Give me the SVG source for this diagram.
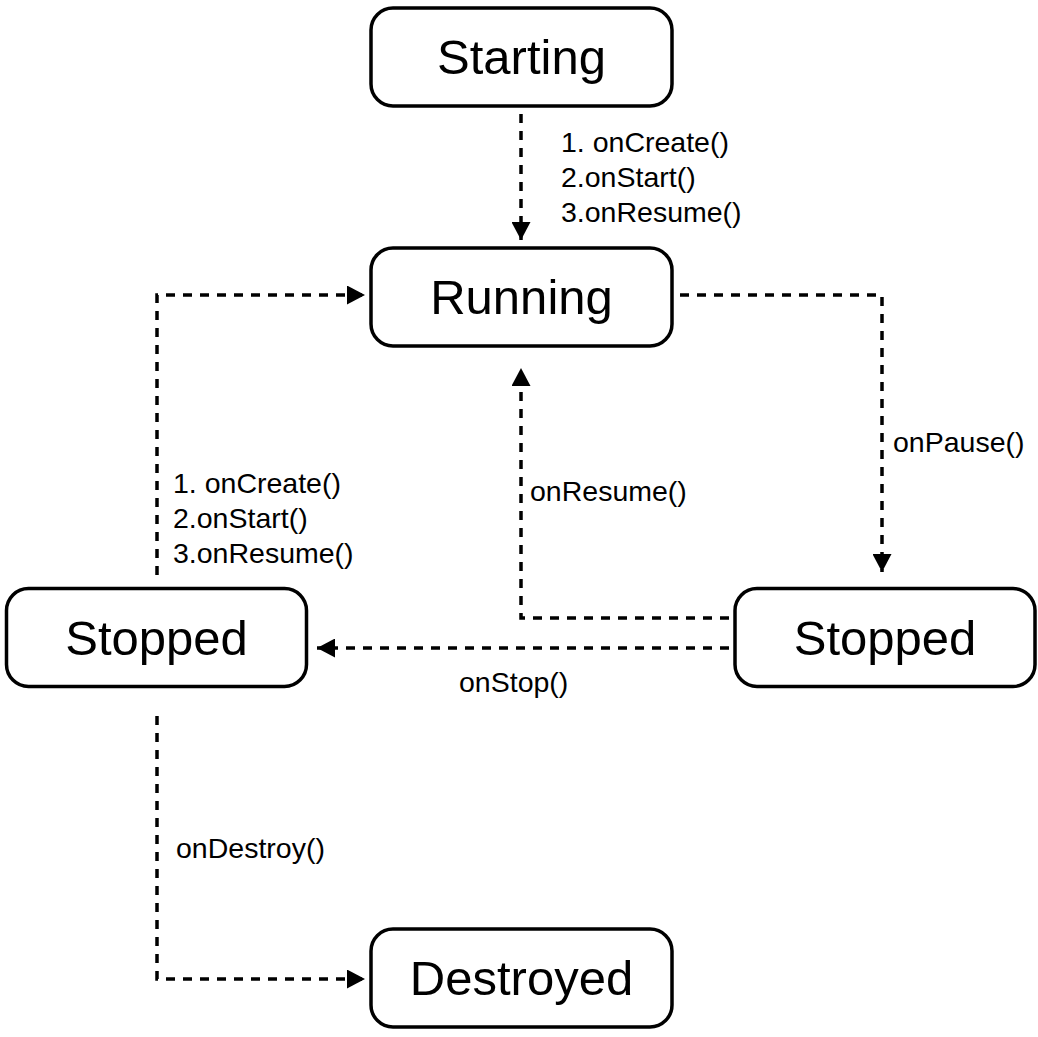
<svg xmlns="http://www.w3.org/2000/svg" width="1038" height="1037" viewBox="0 0 1038 1037">
<style>
.node rect{fill:#fff;stroke:#000;stroke-width:3.5}
.node text{font-family:"Liberation Sans",Arial,sans-serif;font-size:49px;text-anchor:middle;fill:#000}
.lbl{font-family:"Liberation Sans",Arial,sans-serif;font-size:28.5px;fill:#000}
.edge{fill:none;stroke:#000;stroke-width:3.5;stroke-dasharray:9 8;marker-end:url(#arr)}
</style>
<defs>
<marker id="arr" markerUnits="userSpaceOnUse" markerWidth="19" markerHeight="19" viewBox="0 0 19 19" refX="18" refY="9.5" orient="auto">
<path d="M0,0 L18,9.5 L0,19 Z" fill="#000"/>
</marker>
</defs>
<rect width="1038" height="1037" fill="#fff"/>
<g id="connectors">
<path class="edge" d="M521,114 L521,240"/>
<path class="edge" d="M157,575 L157,295 L365,295"/>
<path class="edge" d="M680,295 L882,295 L882,572"/>
<path class="edge" d="M729,618 L521,618 L521,368"/>
<path class="edge" d="M729,648 L317,648"/>
<path class="edge" d="M157,716 L157,979 L365,979"/>
</g>
<g id="labels">
<text class="lbl" x="561" y="152">1. onCreate()</text>
<text class="lbl" x="561" y="187">2.onStart()</text>
<text class="lbl" x="561" y="222">3.onResume()</text>
<text class="lbl" x="173" y="493">1. onCreate()</text>
<text class="lbl" x="173" y="528">2.onStart()</text>
<text class="lbl" x="173" y="563">3.onResume()</text>
<text class="lbl" x="893" y="452">onPause()</text>
<text class="lbl" x="530" y="501">onResume()</text>
<text class="lbl" x="459" y="692">onStop()</text>
<text class="lbl" x="176" y="858">onDestroy()</text>
</g>
<g id="starting" class="node"><rect x="371" y="8" width="301" height="98" rx="22"/><text x="521.5" y="74">Starting</text></g>
<g id="running" class="node"><rect x="371" y="248" width="301" height="98" rx="22"/><text x="521.5" y="314">Running</text></g>
<g id="stopped-left" class="node"><rect x="6.5" y="588.5" width="300" height="98" rx="22"/><text x="156.5" y="655">Stopped</text></g>
<g id="stopped-right" class="node"><rect x="735" y="588.5" width="300" height="98" rx="22"/><text x="885" y="655">Stopped</text></g>
<g id="destroyed" class="node"><rect x="371" y="929" width="301" height="98" rx="22"/><text x="521.5" y="995">Destroyed</text></g>
</svg>
